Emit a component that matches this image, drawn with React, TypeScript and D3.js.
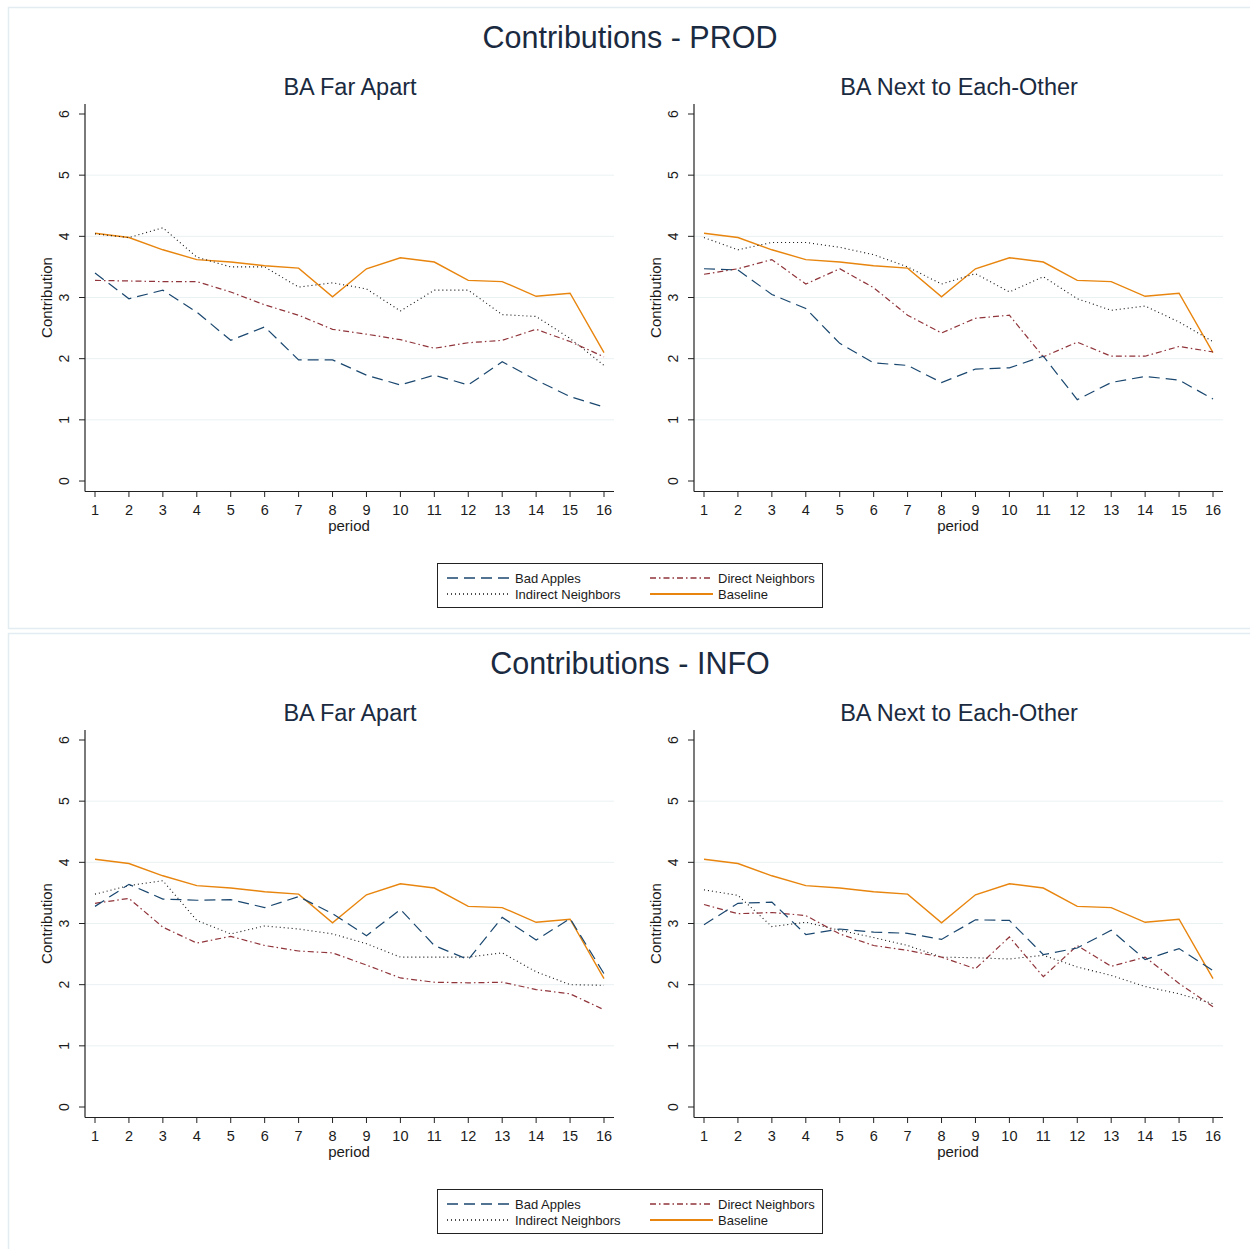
import React, { useRef, useEffect } from "react";
import * as d3 from "d3";

// periodi e serie
const periods = [1, 2, 3, 4, 5, 6, 7, 8, 9, 10, 11, 12, 13, 14, 15, 16];
const yTicks = [0, 1, 2, 3, 4, 5, 6];

const baseline = [4.05, 3.98, 3.78, 3.62, 3.58, 3.52, 3.48, 3.01, 3.47, 3.65, 3.58, 3.28, 3.26, 3.02, 3.07, 2.1];

const prodFarBad = [3.4, 2.98, 3.12, 2.76, 2.3, 2.52, 1.98, 1.98, 1.73, 1.57, 1.73, 1.57, 1.95, 1.65, 1.38, 1.21];
const prodFarDirect = [3.28, 3.27, 3.26, 3.26, 3.09, 2.88, 2.71, 2.48, 2.4, 2.31, 2.17, 2.26, 2.3, 2.48, 2.28, 2.03];
const prodFarIndirect = [4.04, 3.98, 4.14, 3.66, 3.5, 3.5, 3.17, 3.24, 3.14, 2.78, 3.12, 3.12, 2.72, 2.69, 2.33, 1.89];

const prodNextBad = [3.47, 3.45, 3.05, 2.82, 2.25, 1.93, 1.89, 1.61, 1.83, 1.85, 2.04, 1.33, 1.61, 1.71, 1.65, 1.34];
const prodNextDirect = [3.38, 3.47, 3.62, 3.22, 3.47, 3.16, 2.71, 2.42, 2.66, 2.71, 2.03, 2.27, 2.04, 2.04, 2.2, 2.11];
const prodNextIndirect = [3.98, 3.78, 3.9, 3.9, 3.82, 3.7, 3.5, 3.22, 3.39, 3.09, 3.34, 2.98, 2.79, 2.86, 2.6, 2.28];

const infoFarBad = [3.28, 3.64, 3.4, 3.38, 3.39, 3.26, 3.44, 3.16, 2.8, 3.23, 2.64, 2.41, 3.1, 2.73, 3.08, 2.18];
const infoFarDirect = [3.33, 3.41, 2.94, 2.68, 2.79, 2.64, 2.55, 2.52, 2.32, 2.11, 2.04, 2.03, 2.04, 1.92, 1.85, 1.59];
const infoFarIndirect = [3.48, 3.62, 3.7, 3.05, 2.83, 2.96, 2.91, 2.83, 2.67, 2.45, 2.45, 2.45, 2.52, 2.21, 2.0, 1.99];

const infoNextBad = [2.98, 3.33, 3.35, 2.82, 2.91, 2.86, 2.84, 2.74, 3.06, 3.05, 2.49, 2.6, 2.89, 2.41, 2.59, 2.23];
const infoNextDirect = [3.31, 3.16, 3.18, 3.13, 2.83, 2.64, 2.56, 2.45, 2.26, 2.78, 2.13, 2.64, 2.3, 2.45, 2.02, 1.64];
const infoNextIndirect = [3.55, 3.46, 2.95, 3.02, 2.89, 2.77, 2.64, 2.45, 2.44, 2.42, 2.48, 2.29, 2.15, 1.97, 1.85, 1.69];

const seriesStyles = [
  { key: "Bad Apples", color: "#1a476f", dash: "11,6", width: 1.2 },
  { key: "Indirect Neighbors", color: "#111", dash: "1,3", width: 1.1 },
  { key: "Direct Neighbors", color: "#90353b", dash: "6,3,1.5,3", width: 1.2 },
  { key: "Baseline", color: "#e8850e", dash: null, width: 1.4 },
];

const sections = [
  {
    title: "Contributions - PROD",
    panels: [
      { title: "BA Far Apart", bad: prodFarBad, indirect: prodFarIndirect, direct: prodFarDirect },
      { title: "BA Next to Each-Other", bad: prodNextBad, indirect: prodNextIndirect, direct: prodNextDirect },
    ],
  },
  {
    title: "Contributions - INFO",
    panels: [
      { title: "BA Far Apart", bad: infoFarBad, indirect: infoFarIndirect, direct: infoFarDirect },
      { title: "BA Next to Each-Other", bad: infoNextBad, indirect: infoNextIndirect, direct: infoNextDirect },
    ],
  },
];

const FONT = "'Liberation Sans', Arial, sans-serif";
const TEXT = "#1b1b1b";

export default function App() {
  const svgRef = useRef<SVGSVGElement | null>(null);

  useEffect(() => {
    const svg = d3.select(svgRef.current);
    svg.selectAll("*").remove();
    svg.attr("width", 1250).attr("height", 1249);

    svg.append("rect").attr("width", 1250).attr("height", 1249).attr("fill", "#fff");

    sections.forEach((sec, si) => {
      const oy = si * 626;
      const sg = svg.append("g");

      // cornice leggera del grafico
      sg.append("rect")
        .attr("x", 8.5).attr("y", oy + 7.5)
        .attr("width", 1245).attr("height", 621)
        .attr("fill", "none").attr("stroke", "#e3edf1").attr("stroke-width", 1.5);

      sg.append("text")
        .attr("x", 630).attr("y", oy + 48)
        .attr("text-anchor", "middle")
        .style("font-family", FONT).style("font-size", "30.5px")
        .style("fill", "#1a2a40")
        .text(sec.title);

      sec.panels.forEach((p, pi) => {
        const ox = pi === 0 ? 85 : 694;
        const x = d3.scaleLinear().domain([1, 16]).range([ox + 10, ox + 519]);
        const y = d3.scaleLinear().domain([0, 6]).range([oy + 481, oy + 114]);
        const g = sg.append("g");

        g.append("text")
          .attr("x", ox + 265).attr("y", oy + 95)
          .attr("text-anchor", "middle")
          .style("font-family", FONT).style("font-size", "23.5px")
          .style("fill", "#1a2a40")
          .text(p.title);

        // griglia
        g.selectAll("line.grid")
          .data([1, 2, 3, 4, 5])
          .join("line")
          .attr("x1", ox).attr("x2", ox + 529)
          .attr("y1", d => y(d)).attr("y2", d => y(d))
          .attr("stroke", "#eaf1f2").attr("stroke-width", 1);

        // asse y
        g.append("line")
          .attr("x1", ox).attr("x2", ox)
          .attr("y1", oy + 104).attr("y2", oy + 491.5)
          .attr("stroke", "#222").attr("stroke-width", 1.2);
        g.selectAll("line.yt")
          .data(yTicks)
          .join("line")
          .attr("x1", ox - 6).attr("x2", ox)
          .attr("y1", d => y(d)).attr("y2", d => y(d))
          .attr("stroke", "#222");
        g.selectAll("text.yl")
          .data(yTicks)
          .join("text")
          .attr("transform", d => `translate(${ox - 16},${y(d)}) rotate(-90)`)
          .attr("text-anchor", "middle")
          .style("font-family", FONT).style("font-size", "14px")
          .style("fill", TEXT)
          .text(d => d);
        g.append("text")
          .attr("transform", `translate(${ox - 33},${(y(0) + y(6)) / 2}) rotate(-90)`)
          .attr("text-anchor", "middle")
          .style("font-family", FONT).style("font-size", "15px")
          .style("fill", TEXT)
          .text("Contribution");

        // asse x
        g.append("line")
          .attr("x1", ox).attr("x2", ox + 529)
          .attr("y1", oy + 491.5).attr("y2", oy + 491.5)
          .attr("stroke", "#222").attr("stroke-width", 1.2);
        g.selectAll("line.xt")
          .data(periods)
          .join("line")
          .attr("x1", d => x(d)).attr("x2", d => x(d))
          .attr("y1", oy + 491.5).attr("y2", oy + 497)
          .attr("stroke", "#222");
        g.selectAll("text.xl")
          .data(periods)
          .join("text")
          .attr("x", d => x(d)).attr("y", oy + 515)
          .attr("text-anchor", "middle")
          .style("font-family", FONT).style("font-size", "14.5px")
          .style("fill", TEXT)
          .text(d => d);
        g.append("text")
          .attr("x", ox + 264).attr("y", oy + 531)
          .attr("text-anchor", "middle")
          .style("font-family", FONT).style("font-size", "15px")
          .style("fill", TEXT)
          .text("period");

        const line = d3.line<number>().x((_, i) => x(periods[i])).y(d => y(d));
        const vals: Record<string, number[]> = {
          "Bad Apples": p.bad,
          "Indirect Neighbors": p.indirect,
          "Direct Neighbors": p.direct,
          Baseline: baseline,
        };
        [seriesStyles[3], seriesStyles[1], seriesStyles[2], seriesStyles[0]].forEach(s => {
          g.append("path")
            .datum(vals[s.key])
            .attr("d", line)
            .attr("fill", "none")
            .attr("stroke", s.color)
            .attr("stroke-width", s.width)
            .attr("stroke-dasharray", s.dash);
        });
      });

      // legenda
      const lg = sg.append("g").attr("transform", `translate(0,${oy})`);
      lg.append("rect")
        .attr("x", 437.5).attr("y", 563.5).attr("width", 385).attr("height", 44)
        .attr("fill", "#fff").attr("stroke", "#222").attr("stroke-width", 1);
      const pos = [
        { x: 447, y: 578 },
        { x: 447, y: 594 },
        { x: 650, y: 578 },
        { x: 650, y: 594 },
      ];
      seriesStyles.forEach((s, i) => {
        lg.append("line")
          .attr("x1", pos[i].x).attr("x2", pos[i].x + 63)
          .attr("y1", pos[i].y).attr("y2", pos[i].y)
          .attr("stroke", s.color).attr("stroke-width", s.key === "Baseline" ? 1.8 : 1.5)
          .attr("stroke-dasharray", s.dash);
        lg.append("text")
          .attr("x", pos[i].x + 68).attr("y", pos[i].y + 4.5)
          .style("font-family", FONT).style("font-size", "13px")
          .style("fill", TEXT)
          .text(s.key);
      });
    });
  }, []);

  return (
    <div style={{ position: "absolute", left: 0, top: 0 }}>
      <svg ref={svgRef} style={{ display: "block" }} />
    </div>
  );
}
